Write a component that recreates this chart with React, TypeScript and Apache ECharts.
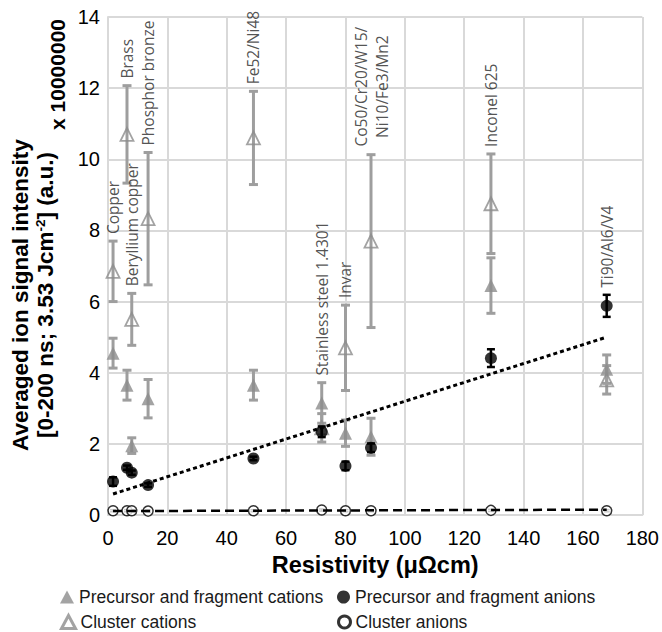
import React, { useEffect, useRef } from 'react';
import * as echarts from 'echarts';

const materials = [
  'Copper',
  'Brass',
  'Beryllium copper',
  'Phosphor bronze',
  'Fe52/Ni48',
  'Stainless steel 1.4301',
  'Invar',
  'Co50/Cr20/W15/\nNi10/Fe3/Mn2',
  'Inconel 625',
  'Ti90/Al6/V4',
];
const resistivity = [1.7, 6.4, 8, 13.5, 49, 72, 80, 88.6, 129, 168];

const precursorCations = [4.55, 3.65, 1.95, 3.27, 3.65, 3.15, 2.3, 2.2, 6.45, 4.1];
const precursorCationsErr = [0.42, 0.42, 0.22, 0.54, 0.42, 0.57, 0.37, 0.52, 0.78, 0.4];
const clusterCations = [6.85, 10.7, 5.5, 8.33, 10.6, 2.45, 4.7, 7.7, 8.75, 3.8];
const clusterCationsErr = [0.85, 1.37, 0.73, 1.86, 1.31, 0.4, 1.2, 2.43, 1.4, 0.4];
const precursorAnions = [0.94, 1.33, 1.19, 0.84, 1.59, 2.34, 1.38, 1.89, 4.41, 5.88];
const precursorAnionsErr = [0.12, 0.06, 0.06, 0.05, 0.05, 0.15, 0.12, 0.12, 0.25, 0.31];
const clusterAnions = [0.12, 0.12, 0.12, 0.11, 0.12, 0.14, 0.12, 0.12, 0.13, 0.12];
const clusterAnionsErr = [0.03, 0.03, 0.03, 0.03, 0.03, 0.03, 0.03, 0.03, 0.03, 0.03];

const anionTrend = [[1.7, 0.59], [168, 5.0]];
const clusterAnionTrend = [[1.7, 0.11], [168, 0.15]];

const xTicks = { min: 0, max: 180, interval: 20 };
const yTicks = { min: 0, max: 14, interval: 2 };

const FONT = '"Liberation Sans", Arial, sans-serif';
const LABEL_FONT = '"Open Sans", sans-serif';
const GRAY_MARK = '#8c8c8c';
const GRAY_BAR = '#9e9e9e';

const triples = (vals: number[], errs: number[]) =>
  resistivity.map((x, i) => [x, vals[i], errs[i]]);

const errorBar = (color: string, width: number, cap: number) => (params: any, api: any) => {
  const x = api.value(0);
  const y = api.value(1);
  const e = api.value(2);
  const hi = api.coord([x, y + e]);
  const lo = api.coord([x, y - e]);
  const style = { stroke: color, lineWidth: width };
  return {
    type: 'group',
    children: [
      { type: 'line', shape: { x1: hi[0], y1: hi[1], x2: lo[0], y2: lo[1] }, style },
      { type: 'line', shape: { x1: hi[0] - cap, y1: hi[1], x2: hi[0] + cap, y2: hi[1] }, style },
      { type: 'line', shape: { x1: lo[0] - cap, y1: lo[1], x2: lo[0] + cap, y2: lo[1] }, style },
    ],
  };
};

export default function App() {
  const ref = useRef<HTMLDivElement>(null);
  useEffect(() => {
    const chart = echarts.init(ref.current!, null, { renderer: 'svg' });

    const labelData = materials.map((m, i) => ({
      name: m,
      value: [
        resistivity[i],
        Math.max(
          precursorCations[i] + precursorCationsErr[i],
          clusterCations[i] + clusterCationsErr[i],
          precursorAnions[i] + precursorAnionsErr[i]
        ),
      ],
    }));

    const legendText = { fontFamily: FONT, fontSize: 17.5, color: '#1a1a1a' };

    const option: any = {
      animation: false,
      grid: { left: 106, right: 10, top: 17, bottom: 117, containLabel: false },
      xAxis: {
        type: 'value',
        ...xTicks,
        name: 'Resistivity (μΩcm)',
        nameLocation: 'middle',
        nameGap: 37,
        nameTextStyle: { fontFamily: FONT, fontSize: 23.5, fontWeight: 'bold', color: '#000' },
        axisLine: { show: true, lineStyle: { color: '#d9d9d9', width: 2 } },
        axisTick: { show: false },
        axisLabel: { fontFamily: FONT, fontSize: 20, color: '#000', margin: 13 },
        splitLine: { show: true, lineStyle: { color: '#d9d9d9', width: 2 } },
      },
      yAxis: {
        type: 'value',
        ...yTicks,
        name: 'Averaged ion signal intensity\n[0-200 ns; 3.53 Jcm{sup|-2}] (a.u.)',
        nameLocation: 'middle',
        nameRotate: 90,
        nameGap: 50,
        nameTextStyle: {
          fontFamily: FONT,
          fontSize: 22.5,
          fontWeight: 'bold',
          color: '#000',
          lineHeight: 25,
          padding: [0, 58, 0, 0],
          rich: {
            sup: { fontFamily: FONT, fontSize: 13.5, fontWeight: 'bold', color: '#000', verticalAlign: 'top', lineHeight: 25 },
          },
        },
        axisLine: { show: true, lineStyle: { color: '#d9d9d9', width: 2 } },
        axisTick: { show: false },
        axisLabel: { fontFamily: FONT, fontSize: 20, color: '#000', margin: 8 },
        splitLine: { show: true, lineStyle: { color: '#d9d9d9', width: 2 } },
      },
      legend: [
        {
          data: ['Precursor and fragment cations'],
          left: 60, top: 588, padding: 0, itemWidth: 14, itemHeight: 13, itemGap: 6,
          textStyle: legendText,
        },
        {
          data: ['Precursor and fragment anions'],
          left: 337, top: 588, padding: 0, itemWidth: 13, itemHeight: 13,
          textStyle: legendText,
        },
        {
          data: [{ name: 'Cluster cations', itemStyle: { borderWidth: 3 } }],
          left: 60, top: 613, padding: 0, itemWidth: 14, itemHeight: 13,
          textStyle: legendText,
        },
        {
          data: [{ name: 'Cluster anions', itemStyle: { borderWidth: 3 } }],
          left: 337, top: 613, padding: 0, itemWidth: 12, itemHeight: 12,
          textStyle: legendText,
        },
      ],
      graphic: [
        {
          type: 'text',
          x: 57,
          y: 19,
          rotation: Math.PI / 2,
          style: {
            text: 'x 10000000',
            font: `bold 21px ${FONT}`,
            fill: '#000',
            align: 'right',
            verticalAlign: 'middle',
          },
        },
      ],
      series: [
        {
          type: 'custom',
          name: 'cc-err',
          silent: true,
          z: 2,
          renderItem: errorBar(GRAY_BAR, 3, 4.5),
          encode: { x: 0, y: 1 },
          data: triples(clusterCations, clusterCationsErr),
        },
        {
          type: 'custom',
          name: 'pc-err',
          silent: true,
          z: 2,
          renderItem: errorBar(GRAY_BAR, 3, 4.5),
          encode: { x: 0, y: 1 },
          data: triples(precursorCations, precursorCationsErr),
        },
        {
          type: 'scatter',
          name: 'Cluster cations',
          silent: true,
          z: 3,
          symbol: 'triangle',
          symbolSize: 13,
          itemStyle: { color: 'rgba(255,255,255,0)', borderColor: GRAY_MARK, borderWidth: 1.8 },
          data: resistivity.map((x, i) => [x, clusterCations[i]]),
        },
        {
          type: 'scatter',
          name: 'Precursor and fragment cations',
          silent: true,
          z: 3,
          symbol: 'triangle',
          symbolSize: 13,
          itemStyle: { color: GRAY_MARK },
          data: resistivity.map((x, i) => [x, precursorCations[i]]),
        },
        {
          type: 'custom',
          name: 'pa-err',
          silent: true,
          z: 4,
          renderItem: errorBar('#000', 2.5, 4),
          encode: { x: 0, y: 1 },
          data: triples(precursorAnions, precursorAnionsErr),
        },
        {
          type: 'custom',
          name: 'ca-err',
          silent: true,
          z: 4,
          renderItem: errorBar('#000', 1.5, 3),
          encode: { x: 0, y: 1 },
          data: triples(clusterAnions, clusterAnionsErr),
        },
        {
          type: 'scatter',
          name: 'Precursor and fragment anions',
          silent: true,
          z: 5,
          symbol: 'circle',
          symbolSize: 12,
          itemStyle: { color: '#000' },
          data: resistivity.map((x, i) => [x, precursorAnions[i]]),
        },
        {
          type: 'scatter',
          name: 'Cluster anions',
          silent: true,
          z: 5,
          symbol: 'circle',
          symbolSize: 10,
          itemStyle: { color: '#fff', borderColor: '#000', borderWidth: 1.5 },
          data: resistivity.map((x, i) => [x, clusterAnions[i]]),
        },
        {
          type: 'line',
          name: 'anion-trend',
          silent: true,
          z: 6,
          symbol: 'none',
          lineStyle: { color: '#000', width: 3, type: [4, 3] },
          data: anionTrend,
        },
        {
          type: 'line',
          name: 'cluster-anion-trend',
          silent: true,
          z: 6,
          symbol: 'none',
          lineStyle: { color: '#000', width: 2.5, type: [9, 5] },
          data: clusterAnionTrend,
        },
        {
          type: 'scatter',
          name: 'labels',
          silent: true,
          z: 7,
          symbolSize: 0.1,
          itemStyle: { color: 'rgba(0,0,0,0)' },
          label: {
            show: true,
            position: 'top',
            distance: 7,
            rotate: 90,
            align: 'left',
            verticalAlign: 'middle',
            formatter: (p: any) =>
              p.name.indexOf('\n') >= 0
                ? p.name.split('\n').map((s: string) => `{c|${s}}`).join('\n')
                : p.name,
            fontFamily: LABEL_FONT,
            fontSize: 15.5,
            lineHeight: 21,
            color: '#262626',
            rich: {
              c: {
                width: 122,
                align: 'center',
                fontFamily: LABEL_FONT,
                fontSize: 15.5,
                lineHeight: 21,
                color: '#262626',
              },
            },
          },
          data: labelData,
        },
      ],
    };
    chart.setOption(option);
    return () => chart.dispose();
  }, []);
  return (
    <div
      ref={ref}
      style={{ position: 'fixed', left: 0, top: 0, width: 662, height: 632, background: '#fff' }}
    />
  );
}
